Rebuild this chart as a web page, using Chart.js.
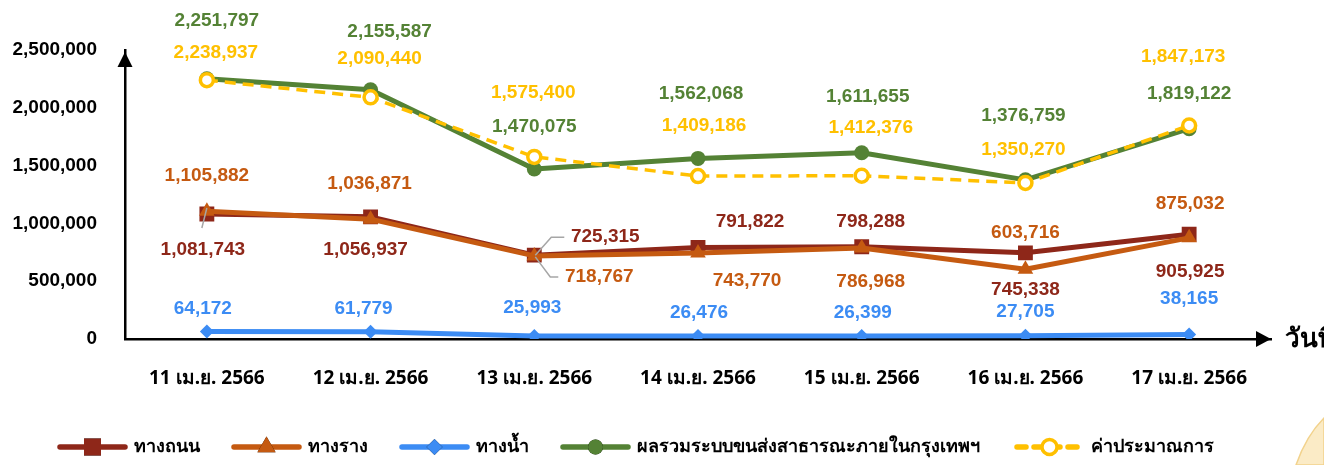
<!DOCTYPE html>
<html>
<head>
<meta charset="utf-8">
<script src="https://cdn.jsdelivr.net/npm/chart.js@4.4.1/dist/chart.umd.min.js"></script>
<style>
  body { margin: 0; background: #fff; }
  #wrap { width: 1324px; height: 465px; }
</style>
</head>
<body>
<div id="wrap"><canvas id="TravelChart"></canvas></div>
<script>
var days = ['11 เม.ย. 2566', '12 เม.ย. 2566', '13 เม.ย. 2566', '14 เม.ย. 2566', '15 เม.ย. 2566', '16 เม.ย. 2566', '17 เม.ย. 2566']
var road = [1081743, 1056937, 725315, 791822, 798288, 745338, 905925]
var rail = [1105882, 1036871, 718767, 743770, 786968, 603716, 875032]
var water = [64172, 61779, 25993, 26476, 26399, 27705, 38165]
var total = [2251797, 2155587, 1470075, 1562068, 1611655, 1376759, 1819122]
var estimate = [2238937, 2090440, 1575400, 1409186, 1412376, 1350270, 1847173]
var yTicks = [0, 500000, 1000000, 1500000, 2000000, 2500000]

var numFont = '"Liberation Sans", Arial, sans-serif'
var thaiFont = '"Noto Sans", "DejaVu Sans", sans-serif'

// where each value label sits relative to its point
var labelShift = {
    road: [[-4, 36], [-5, 33], [71, -18], [52, -26], [9, -25], [0, 37], [1, 37]],
    rail: [[0, -35], [-1, -35], [65, 21], [49, 28], [9, 34], [0, -36], [1, -34]],
    water: [[-4, -23], [-7, -23], [-2, -28], [1, -23], [1, -23], [0, -24], [0, -36]],
    total: [[10, -58], [19, -58], [0, -42], [3, -65], [6, -56], [-2, -64], [0, -35]],
    estimate: [[9, -27], [9, -39], [-1, -64], [6, -50], [9, -48], [-2, -33], [-6, -69]]
}
// little grey callout lines
var leaders = [
    { key: 'road', i: 0, pts: [[0, -6], [-5, 14]] },
    { key: 'road', i: 2, pts: [[1, 0], [17, -18], [30, -18]] },
    { key: 'rail', i: 2, pts: [[1, 1], [16, 21], [24, 21]] }
]
var legendStart = [57, 231, 399, 560, 1014]

function fmt(v) {
    return v.toLocaleString('en-US')
}

var valueLabels = {
    id: 'valueLabels',
    afterDatasetsDraw: function (chart) {
        var ctx = chart.ctx
        ctx.save()
        // callouts
        ctx.strokeStyle = '#A6A6A6'
        ctx.lineWidth = 1.5
        leaders.forEach(function (l) {
            var idx = chart.data.datasets.findIndex(function (d) { return d.key == l.key })
            var p = chart.getDatasetMeta(idx).data[l.i]
            ctx.beginPath()
            l.pts.forEach(function (q, k) {
                if (k == 0) ctx.moveTo(p.x + q[0], p.y + q[1])
                else ctx.lineTo(p.x + q[0], p.y + q[1])
            })
            ctx.stroke()
        })
        ctx.font = 'bold 19px ' + numFont
        ctx.textAlign = 'center'
        ctx.textBaseline = 'middle'
        chart.data.datasets.forEach(function (ds, di) {
            var meta = chart.getDatasetMeta(di)
            ctx.fillStyle = ds.labelColor
            meta.data.forEach(function (p, i) {
                var s = labelShift[ds.key][i]
                ctx.fillText(fmt(ds.data[i]), p.x + s[0], p.y + s[1])
            })
        })
        ctx.restore()
    }
}

var axisDecor = {
    id: 'axisDecor',
    afterDraw: function (chart) {
        var ctx = chart.ctx
        var a = chart.chartArea
        ctx.save()
        ctx.fillStyle = '#000'
        // y arrow
        ctx.beginPath()
        ctx.moveTo(a.left, a.top + 2)
        ctx.lineTo(a.left - 7.5, a.top + 17)
        ctx.lineTo(a.left + 7.5, a.top + 17)
        ctx.closePath()
        ctx.fill()
        // x arrow
        ctx.beginPath()
        ctx.moveTo(a.right, a.bottom)
        ctx.lineTo(a.right - 15, a.bottom - 8)
        ctx.lineTo(a.right - 15, a.bottom + 8)
        ctx.closePath()
        ctx.fill()
        ctx.font = 'bold 26px ' + thaiFont
        ctx.textAlign = 'left'
        ctx.textBaseline = 'middle'
        ctx.fillText('วันที่', a.right + 14, a.bottom + 1)

        // legend
        var y = 447
        chart.data.datasets.forEach(function (ds, di) {
            var x0 = legendStart[di]
            ctx.save()
            ctx.strokeStyle = ds.borderColor
            ctx.lineWidth = 5.5
            ctx.lineCap = 'round'
            if (ds.borderDash) ctx.setLineDash([9, 8])
            ctx.beginPath()
            ctx.moveTo(x0 + 3, y)
            ctx.lineTo(x0 + 68, y)
            ctx.stroke()
            ctx.restore()
            Chart.helpers.drawPoint(ctx, {
                pointStyle: ds.pointStyle,
                radius: ds.legendRadius,
                rotation: 0,
                borderWidth: ds.pointBorderWidth
            }, x0 + 35.5, y)
            ctx.fillStyle = ds.pointBackgroundColor
            ctx.strokeStyle = ds.borderColor
            ctx.lineWidth = ds.pointBorderWidth
            ctx.fill()
            if (ds.pointBorderWidth > 0) ctx.stroke()
            ctx.fillStyle = '#000'
            ctx.font = 'bold 18px ' + thaiFont
            ctx.textAlign = 'left'
            ctx.textBaseline = 'middle'
            ctx.fillText(ds.label, x0 + 77, y)
        })

        // corner of the background sheet
        ctx.fillStyle = '#FBEBC6'
        ctx.strokeStyle = '#F2D28C'
        ctx.lineWidth = 1.5
        ctx.beginPath()
        ctx.moveTo(1296, 465)
        ctx.quadraticCurveTo(1306, 436, 1324, 418)
        ctx.lineTo(1324, 465)
        ctx.closePath()
        ctx.fill()
        ctx.stroke()
        ctx.restore()
    }
}

var config_Travel = {
    type: 'line',
    data: {
        labels: days,
        datasets: [
            {
                key: 'road', label: 'ทางถนน', data: road,
                borderColor: '#8E2719', pointBackgroundColor: '#8E2719', pointBorderColor: '#8E2719',
                labelColor: '#8E2719',
                borderWidth: 5, pointStyle: 'rect', pointRadius: 10.5, pointBorderWidth: 0,
                legendRadius: 12, order: 4
            },
            {
                key: 'rail', label: 'ทางราง', data: rail,
                borderColor: '#C55A11', pointBackgroundColor: '#C55A11', pointBorderColor: '#C55A11',
                labelColor: '#C55A11',
                borderWidth: 5, pointStyle: 'triangle', pointRadius: 9, pointBorderWidth: 0,
                legendRadius: 10.5, order: 3
            },
            {
                key: 'water', label: 'ทางน้ำ', data: water,
                borderColor: '#3C8CF4', pointBackgroundColor: '#3C8CF4', pointBorderColor: '#3C8CF4',
                labelColor: '#3C8CF4',
                borderWidth: 5, pointStyle: 'rectRot', pointRadius: 7, pointBorderWidth: 0,
                legendRadius: 8, order: 2
            },
            {
                key: 'total', label: 'ผลรวมระบบขนส่งสาธารณะภายในกรุงเทพฯ', data: total,
                borderColor: '#548235', pointBackgroundColor: '#548235', pointBorderColor: '#548235',
                labelColor: '#548235',
                borderWidth: 5, pointStyle: 'circle', pointRadius: 7.5, pointBorderWidth: 0,
                legendRadius: 7.5, order: 1
            },
            {
                key: 'estimate', label: 'ค่าประมาณการ', data: estimate,
                borderColor: '#FFC000', pointBackgroundColor: '#FFFFFF', pointBorderColor: '#FFC000',
                labelColor: '#FFC000',
                borderWidth: 3.5, borderDash: [11, 7], pointStyle: 'circle', pointRadius: 6.5, pointBorderWidth: 3.5,
                legendRadius: 7.5, order: 0
            }
        ]
    },
    options: {
        responsive: true,
        maintainAspectRatio: false,
        animation: false,
        layout: {
            padding: { top: 50, right: 53, left: 0, bottom: 0 }
        },
        elements: {
            line: { tension: 0, borderJoinStyle: 'round' }
        },
        plugins: {
            legend: { display: false },
            tooltip: { enabled: false }
        },
        scales: {
            x: {
                offset: true,
                grid: { display: false, drawTicks: false },
                border: { display: true, color: '#000', width: 2.5 },
                ticks: {
                    color: '#000',
                    padding: 28,
                    font: { family: thaiFont, size: 19, weight: 'bold' }
                },
                afterFit: function (s) { s.height = 126 }
            },
            y: {
                min: yTicks[0],
                max: yTicks[yTicks.length - 1],
                grid: { display: false, drawTicks: false },
                border: { display: true, color: '#000', width: 2.5 },
                afterBuildTicks: function (s) {
                    s.ticks = yTicks.map(function (v) { return { value: v } })
                },
                ticks: {
                    color: '#000',
                    padding: 28,
                    font: { family: numFont, size: 19, weight: 'bold' },
                    callback: function (v) { return fmt(v) }
                },
                afterFit: function (s) { s.width = 125 }
            }
        }
    },
    plugins: [valueLabels, axisDecor]
}

var TravelChartElement = document.getElementById('TravelChart').getContext('2d');
new Chart(TravelChartElement, config_Travel);
</script>
</body>
</html>
